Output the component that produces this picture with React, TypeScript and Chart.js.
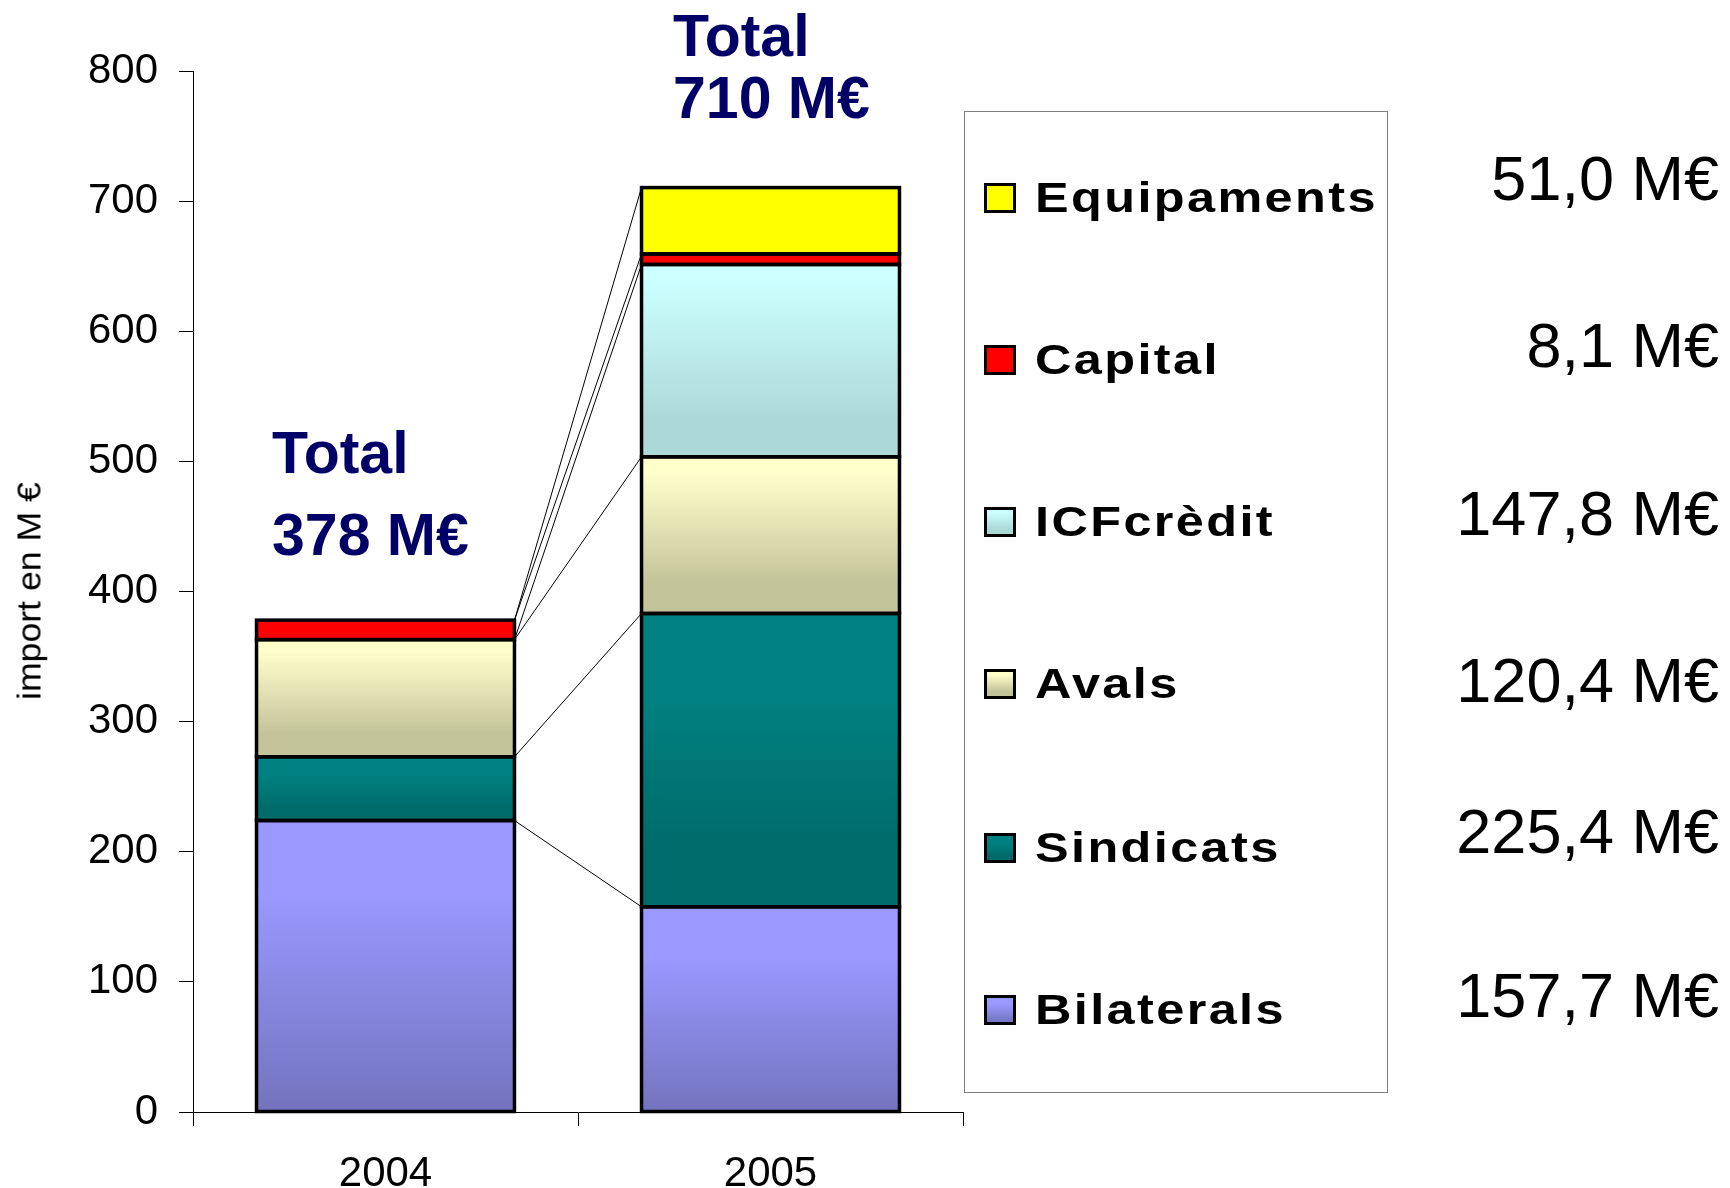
import React, { useEffect, useRef } from "react";
import { Chart, registerables } from "chart.js";

Chart.register(...registerables);

// ---------- data ----------
const years = ["2004", "2005"];
const seriesNames = ["Bilaterals", "Sindicats", "Avals", "ICFcrèdit", "Capital", "Equipaments"];
const bilaterals = [224, 157.7];
const sindicats = [49, 225.4];
const avals = [90, 120.4];
const icfCredit = [0, 147.8];
const capital = [15, 8.1];
const equipaments = [0, 51.0];
const seriesValues = [bilaterals, sindicats, avals, icfCredit, capital, equipaments];
const valueLabels2005 = ["157,7 M€", "225,4 M€", "120,4 M€", "147,8 M€", "8,1 M€", "51,0 M€"];
const totalTitle = "Total";
const totalLabels = ["378 M€", "710 M€"];
const yAxisTitle = "import en M €";
const yMin = 0;
const yMax = 800;
const yStep = 100;

// ---------- styles ----------
const FONT = '"Liberation Sans", Arial, Helvetica, sans-serif';
const gradients: [number, string][][] = [
  [[0, "#9999FF"], [0.25, "#9999FF"], [1, "#7373BE"]],
  [[0, "#008080"], [0.3, "#008080"], [0.8, "#006B6B"], [1, "#006B6B"]],
  [[0, "#FFFFCC"], [0.1, "#FFFFCC"], [0.8, "#C4C49A"], [1, "#C4C49A"]],
  [[0, "#CCFFFF"], [0.1, "#CCFFFF"], [0.8, "#ADD8D8"], [1, "#ADD8D8"]],
  [[0, "#FF0000"], [1, "#FF0000"]],
  [[0, "#FFFF00"], [1, "#FFFF00"]],
];
const cssGradient = (g: [number, string][]) =>
  `linear-gradient(to bottom, ${g.map(([o, c]) => `${c} ${o * 100}%`).join(", ")})`;

// legend layout (row centers, top to bottom = Equipaments ... Bilaterals)
const legendRowCenters = [198, 360, 522, 684, 848, 1010];
const valueBaselines = [200, 367, 535, 702, 853, 1017];
const TOTAL_FS = 59;

export default function App() {
  const ref = useRef<HTMLCanvasElement>(null);

  useEffect(() => {
    const canvas = ref.current!;
    const outlinesAndSeriesLines = {
      id: "outlinesAndSeriesLines",
      afterDatasetsDraw(chart: any) {
        const ctx = chart.ctx;
        ctx.save();
        // series lines between the two stacks
        ctx.strokeStyle = "#000";
        ctx.lineWidth = 1;
        for (let i = 0; i < seriesValues.length; i++) {
          const meta = chart.getDatasetMeta(i);
          const a: any = meta.data[0];
          const b: any = meta.data[1];
          if (!a || !b) continue;
          ctx.beginPath();
          ctx.moveTo(a.x + a.width / 2, a.y);
          ctx.lineTo(b.x - b.width / 2, b.y);
          ctx.stroke();
        }
        // segment outlines
        ctx.lineWidth = 3.5;
        ctx.lineJoin = "miter";
        for (let i = 0; i < seriesValues.length; i++) {
          const meta = chart.getDatasetMeta(i);
          meta.data.forEach((el: any) => {
            const h = el.base - el.y;
            if (Math.abs(h) < 0.5) return;
            ctx.strokeRect(el.x - el.width / 2, el.y, el.width, h);
          });
        }
        ctx.restore();
      },
    };

    const makeBg = (si: number) => (ctx: any) => {
      const chart = ctx.chart;
      const y = chart.scales && chart.scales.y;
      const g = gradients[si];
      if (!y || ctx.dataIndex === undefined) return g[0][1];
      const j = ctx.dataIndex;
      let start = 0;
      for (let k = 0; k < si; k++) start += seriesValues[k][j];
      const end = start + seriesValues[si][j];
      const top = y.getPixelForValue(end);
      const bottom = y.getPixelForValue(start);
      if (!isFinite(top) || !isFinite(bottom) || Math.abs(bottom - top) < 1) return g[0][1];
      const grad = chart.ctx.createLinearGradient(0, top, 0, bottom);
      g.forEach(([o, c]) => grad.addColorStop(o, c));
      return grad;
    };

    const chart = new Chart(canvas, {
      type: "bar",
      data: {
        labels: years,
        datasets: seriesNames.map((name, i) => ({
          label: name,
          data: seriesValues[i],
          backgroundColor: makeBg(i),
          borderWidth: 0,
          inflateAmount: 0,
          categoryPercentage: 0.67,
          barPercentage: 1,
        })),
      },
      options: {
        responsive: false,
        animation: false,
        events: [],
        layout: { padding: { top: 71, right: 767, bottom: 0, left: 0 } },
        plugins: {
          legend: { display: false },
          tooltip: { enabled: false },
          title: { display: false },
        },
        scales: {
          x: {
            stacked: true,
            grid: {
              display: true,
              drawOnChartArea: false,
              drawTicks: true,
              offset: true,
              tickLength: 14,
              color: "#000",
              lineWidth: 1,
            },
            border: { display: true, color: "#000", width: 1 },
            ticks: {
              color: "#000",
              font: { family: FONT, size: 42 },
              padding: 23,
            },
            afterFit: (s: any) => {
              s.height = 76;
            },
          },
          y: {
            stacked: true,
            min: yMin,
            max: yMax,
            grid: {
              display: true,
              drawOnChartArea: false,
              drawTicks: true,
              tickLength: 14,
              color: "#000",
              lineWidth: 1,
            },
            border: { display: true, color: "#000", width: 1 },
            ticks: {
              stepSize: yStep,
              color: "#000",
              font: { family: FONT, size: 42 },
              padding: 21,
            },
            afterFit: (s: any) => {
              s.width = 193;
            },
          },
        },
      },
      plugins: [outlinesAndSeriesLines],
    } as any);

    return () => chart.destroy();
  }, []);

  const legendOrder = [5, 4, 3, 2, 1, 0];

  return (
    <div
      style={{
        position: "absolute",
        left: 0,
        top: 0,
        width: 1730,
        height: 1188,
        background: "#fff",
        fontFamily: FONT,
        overflow: "hidden",
      }}
    >
      <canvas ref={ref} width={1730} height={1188} style={{ position: "absolute", left: 0, top: 0 }} />

      {/* y axis title */}
      <div
        style={{
          position: "absolute",
          left: 29,
          top: 591,
          transform: "translate(-50%, -50%) rotate(-90deg) scaleX(1.08)",
          whiteSpace: "nowrap",
          fontSize: 33,
          lineHeight: "33px",
          color: "#000",
        }}
      >
        {yAxisTitle}
      </div>

      {/* totals */}
      {[
        { left: 272, t1: 474, t2: 556 },
        { left: 673, t1: 57, t2: 119 },
      ].map((p, i) => (
        <React.Fragment key={i}>
          <div
            style={{
              position: "absolute",
              left: p.left,
              top: p.t1 - 0.8465 * TOTAL_FS,
              fontSize: TOTAL_FS,
              lineHeight: `${TOTAL_FS}px`,
              fontWeight: "bold",
              color: "#000066",
              whiteSpace: "nowrap",
            }}
          >
            {totalTitle}
          </div>
          <div
            style={{
              position: "absolute",
              left: p.left,
              top: p.t2 - 0.8465 * TOTAL_FS,
              fontSize: TOTAL_FS,
              lineHeight: `${TOTAL_FS}px`,
              fontWeight: "bold",
              color: "#000066",
              whiteSpace: "nowrap",
            }}
          >
            {totalLabels[i]}
          </div>
        </React.Fragment>
      ))}

      {/* legend box */}
      <div
        style={{
          position: "absolute",
          left: 964,
          top: 111,
          width: 424,
          height: 982,
          border: "1px solid #808080",
          boxSizing: "border-box",
        }}
      />
      {legendOrder.map((si, row) => {
        const c = legendRowCenters[row];
        return (
          <React.Fragment key={si}>
            <div
              style={{
                position: "absolute",
                left: 984,
                top: c - 15,
                width: 32,
                height: 30,
                border: "3px solid #000",
                boxSizing: "border-box",
                background: cssGradient(gradients[si]),
              }}
            />
            <div
              style={{
                position: "absolute",
                left: 1035,
                top: c + 15 - 0.8465 * 42,
                fontSize: 42,
                lineHeight: "42px",
                fontWeight: "bold",
                letterSpacing: 2,
                transform: "scaleX(1.2)",
                transformOrigin: "left center",
                color: "#000",
                whiteSpace: "nowrap",
              }}
            >
              {seriesNames[si]}
            </div>
            <div
              style={{
                position: "absolute",
                right: 1730 - 1719,
                top: valueBaselines[row] - 0.8465 * 63,
                fontSize: 63,
                lineHeight: "63px",
                color: "#000",
                whiteSpace: "nowrap",
                textAlign: "right",
              }}
            >
              {valueLabels2005[si]}
            </div>
          </React.Fragment>
        );
      })}
    </div>
  );
}
